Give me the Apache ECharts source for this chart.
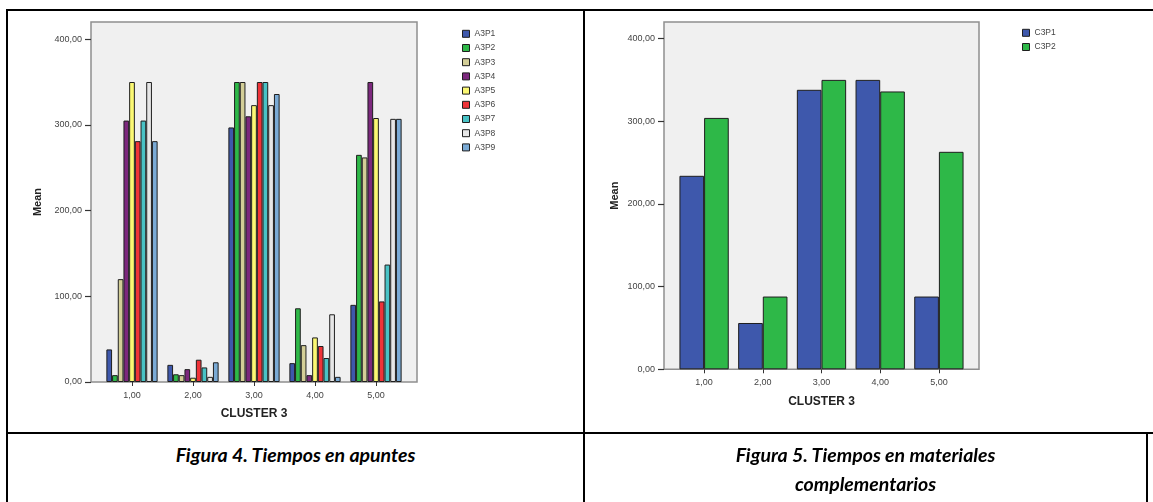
<!DOCTYPE html>
<html>
<head>
<meta charset="utf-8">
<script src="https://cdn.jsdelivr.net/npm/echarts@6/dist/echarts.min.js"></script>
<style>
  html, body { margin: 0; padding: 0; background: #fff; }
  #page { position: relative; width: 1153px; height: 502px; overflow: hidden; }
  #charts { position: absolute; left: 0; top: 0; width: 1153px; height: 433px; }
  .rule { position: absolute; background: #000; }
  .caption {
    position: absolute; text-align: center; color: #000;
    font-family: Lato, "Open Sans", sans-serif; font-weight: bold; font-style: italic;
    font-size: 19.5px; line-height: 29px;
  }
</style>
</head>
<body>
<div id="page">
  <div id="charts"></div>
  <div class="rule" style="left:6px;top:9px;width:1147px;height:2px"></div>
  <div class="rule" style="left:6px;top:9px;width:2px;height:493px"></div>
  <div class="rule" style="left:583px;top:9px;width:2px;height:493px"></div>
  <div class="rule" style="left:6px;top:432px;width:1147px;height:2px"></div>
  <div class="rule" style="left:1146px;top:432px;width:2px;height:70px"></div>
  <div class="caption" style="left:8px;top:440px;width:575px">Figura 4. Tiempos en apuntes</div>
  <div class="caption" style="left:585px;top:440px;width:561px">Figura 5. Tiempos en materiales<br>complementarios</div>
</div>
<script>
// Cluster categories and axis ticks
const clusters = ['1,00', '2,00', '3,00', '4,00', '5,00'];
const yTicks = [0, 100, 200, 300, 400];

// Figura 4: mean time on notes, per cluster
const A3P1 = [38, 20, 297, 22, 90];
const A3P2 = [8, 9, 350, 86, 265];
const A3P3 = [120, 8, 350, 43, 262];
const A3P4 = [305, 15, 310, 8, 350];
const A3P5 = [350, 5, 323, 52, 308];
const A3P6 = [281, 26, 350, 42, 94];
const A3P7 = [305, 17, 350, 28, 137];
const A3P8 = [350, 6, 323, 79, 307];
const A3P9 = [281, 23, 336, 6, 307];

// Figura 5: mean time on complementary materials, per cluster
const C3P1 = [234, 56, 338, 350, 88];
const C3P2 = [304, 88, 350, 336, 263];

const leftNames = ['A3P1', 'A3P2', 'A3P3', 'A3P4', 'A3P5', 'A3P6', 'A3P7', 'A3P8', 'A3P9'];
const leftData = [A3P1, A3P2, A3P3, A3P4, A3P5, A3P6, A3P7, A3P8, A3P9];
const leftColors = ['#3E58AC', '#2EB848', '#D3CE97', '#7C287D', '#FBF873', '#EF3338', '#48C2C5', '#E6E6E6', '#7AAAD5'];
const rightNames = ['C3P1', 'C3P2'];
const rightData = [C3P1, C3P2];
const rightColors = ['#3E58AC', '#2EB848'];

const fmt = v => v.toFixed(2).replace('.', ',');
const FONT = '"Liberation Sans", Arial, sans-serif';

function frameGrid(left, top, width, height) {
  return { left, top, width, height, show: true, backgroundColor: '#F0F0F0', borderColor: '#8F8F8F', borderWidth: 1.5 };
}
function dataGrid(left, top, width, height) {
  return { left, top, width, height, show: false };
}
function frameY(gridIndex, nameGap) {
  return {
    type: 'value', gridIndex, min: 0, max: 420, interval: 100,
    splitLine: { show: false },
    axisLine: { show: false },
    axisTick: { show: true, length: 6, lineStyle: { color: '#333', width: 1.2 },
      customValues: yTicks },
    axisLabel: { fontSize: 9, color: '#444', fontFamily: FONT, margin: 9, formatter: fmt,
      customValues: yTicks },
    name: 'Mean', nameLocation: 'middle', nameRotate: 90, nameGap,
    nameTextStyle: { fontSize: 11, fontWeight: 'bold', color: '#222', fontFamily: FONT }
  };
}
function hiddenY(gridIndex) {
  return { type: 'value', gridIndex, min: 0, max: 420, show: false, splitLine: { show: false } };
}
function hiddenX(gridIndex) {
  return { type: 'value', gridIndex, min: 0, max: 1, show: false, splitLine: { show: false } };
}
function catX(gridIndex) {
  return {
    type: 'category', gridIndex, data: clusters,
    axisLine: { show: false },
    axisTick: { show: true, alignWithLabel: true, length: 4, lineStyle: { color: '#333' } },
    axisLabel: { fontSize: 9, color: '#444', fontFamily: FONT, margin: 9 },
    name: 'CLUSTER 3', nameLocation: 'middle', nameGap: 26,
    nameTextStyle: { fontSize: 12, fontWeight: 'bold', color: '#222', fontFamily: FONT }
  };
}
function bars(names, data, colors, axisIndex) {
  return names.map((n, i) => ({
    type: 'bar', name: n, data: data[i],
    xAxisIndex: axisIndex, yAxisIndex: axisIndex,
    barGap: '0%', barCategoryGap: '16%',
    itemStyle: { color: colors[i], borderColor: '#1e1e1e', borderWidth: 1 },
    emphasis: { disabled: true }
  }));
}
function legend(names, left, top) {
  return {
    data: names, orient: 'vertical', left, top, icon: 'rect',
    itemWidth: 7, itemHeight: 7, itemGap: 5.2, itemStyle: { borderColor: '#1e1e1e', borderWidth: 1 },
    textStyle: { fontSize: 8.5, color: '#444', fontFamily: FONT },
    selectedMode: false
  };
}

const chart = echarts.init(document.getElementById('charts'), null, { renderer: 'canvas' });
chart.setOption({
  animation: false,
  grid: [
    frameGrid(91, 22, 326, 360),
    dataGrid(101.5, 22, 305, 360),
    frameGrid(664, 22, 315, 347.3),
    dataGrid(674.75, 22, 293.5, 347.3)
  ],
  xAxis: [hiddenX(0), catX(1), hiddenX(2), catX(3)],
  yAxis: [frameY(0, 48), hiddenY(1), frameY(2, 44), hiddenY(3)],
  legend: [legend(leftNames, 457, 24.3), legend(rightNames, 1017, 23.3)],
  series: [].concat(
    bars(leftNames, leftData, leftColors, 1),
    bars(rightNames, rightData, rightColors, 3)
  )
});
</script>
</body>
</html>
